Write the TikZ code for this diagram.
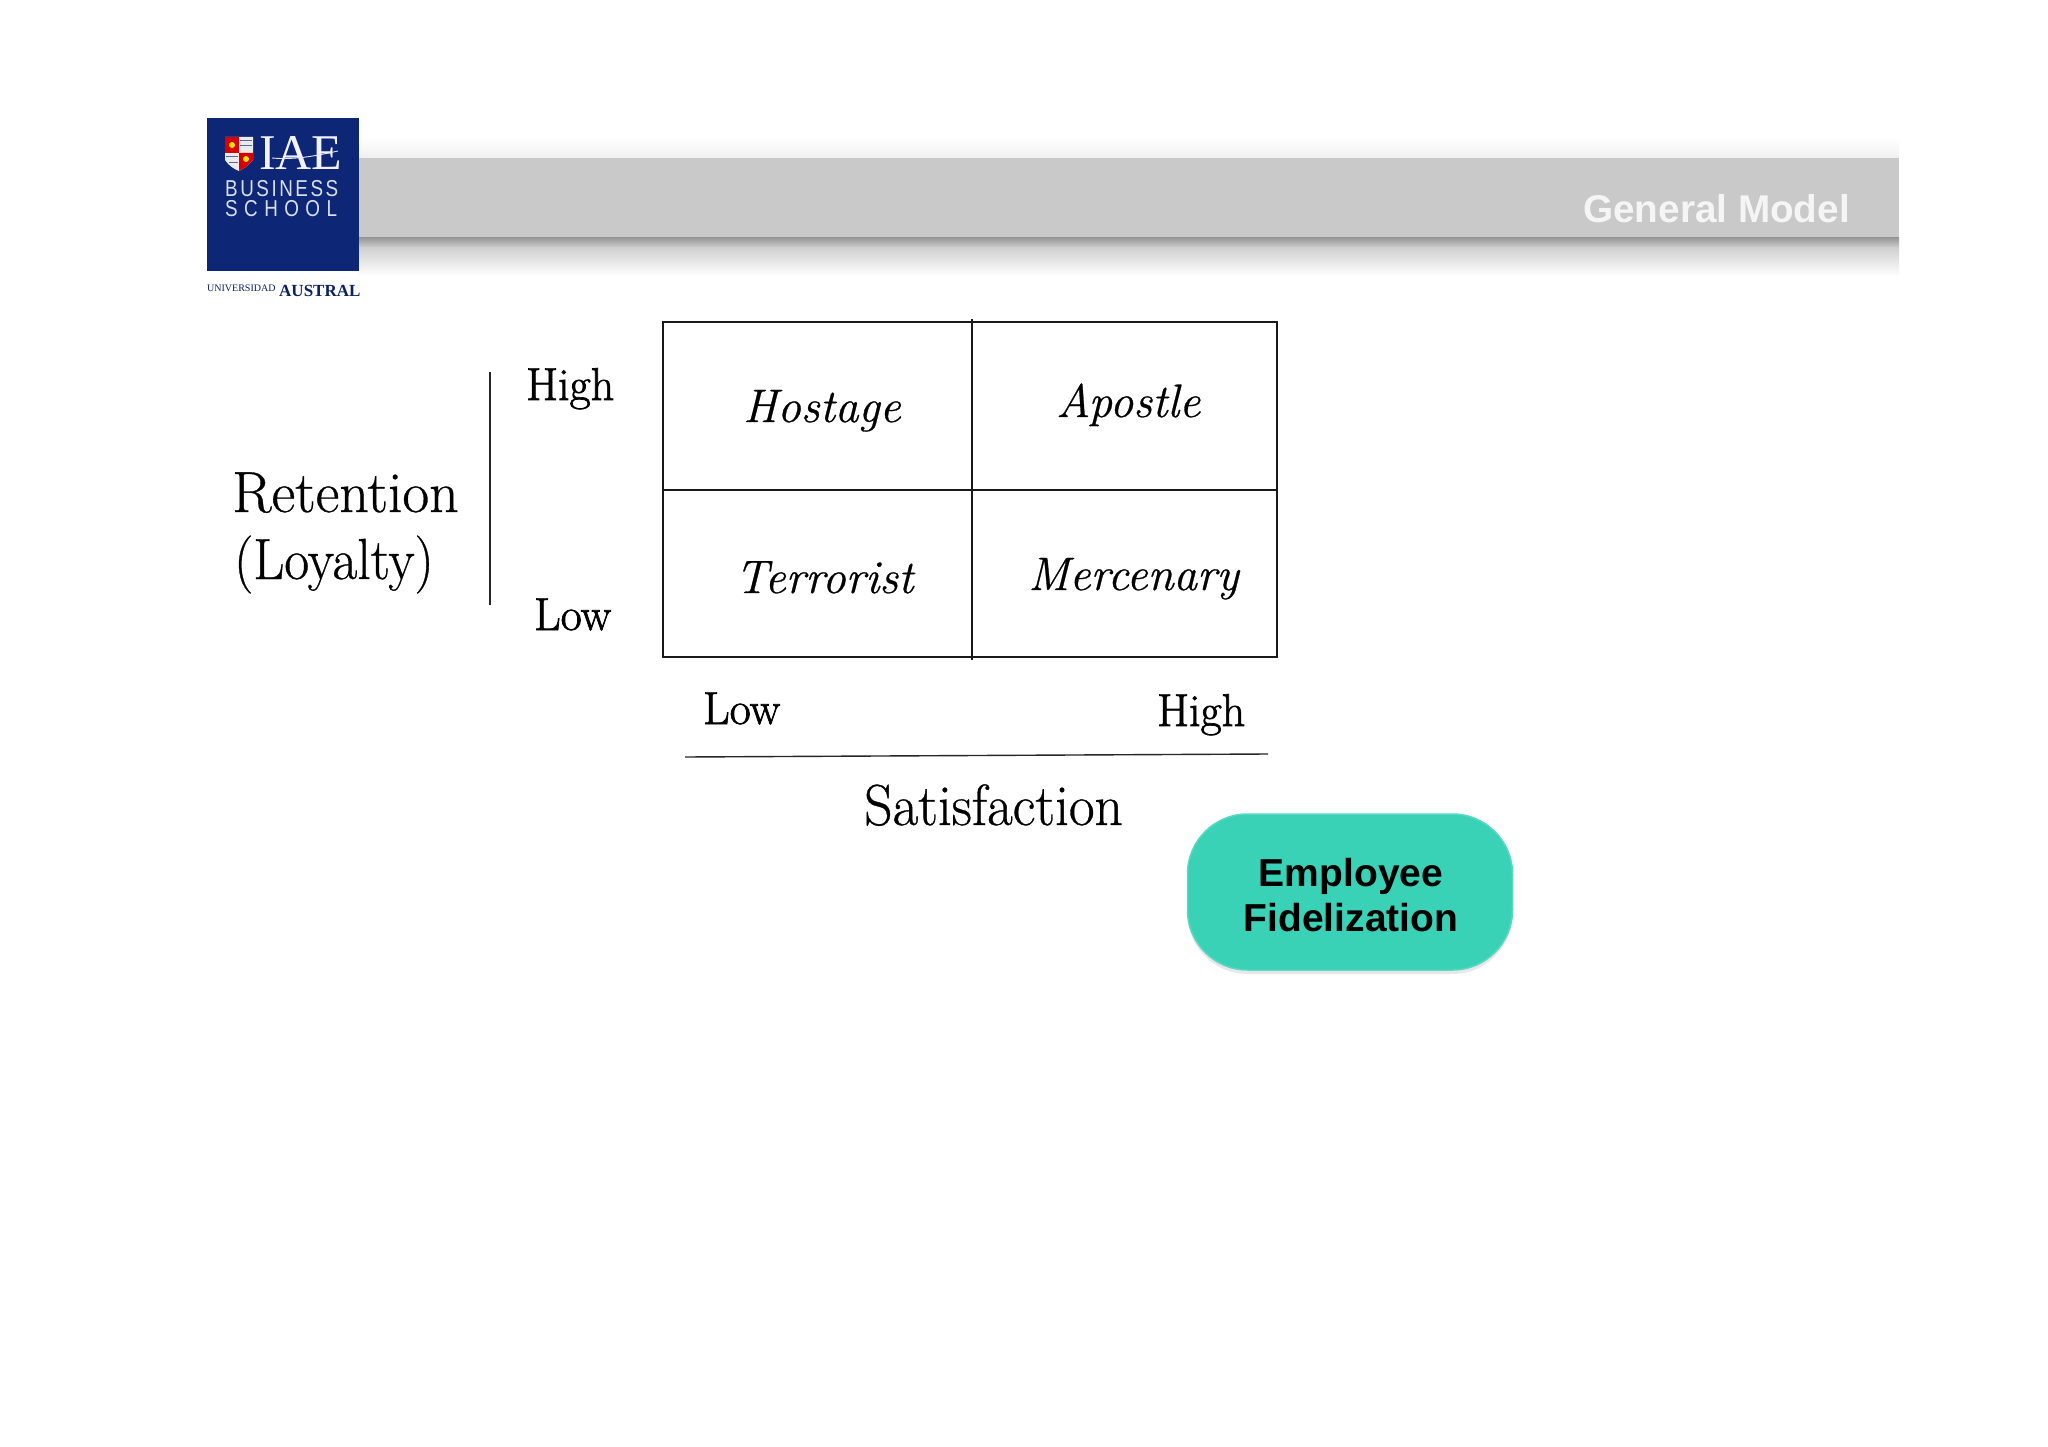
\documentclass[tikz,border=0pt]{standalone}
\usepackage{fontspec}
\usepackage{xcolor}
\usetikzlibrary{shadows}
\newfontfamily\headfont{Liberation Sans}
\newfontfamily\crestfont{Liberation Serif}
\newfontfamily\modelfont[FakeBold=0.6]{Latin Modern Roman}
\newfontfamily\levelfont[FakeBold=1.5]{Latin Modern Roman}
\definecolor{iaeblue}{HTML}{0E2676}
\definecolor{iaepale}{HTML}{D8DEEC}
\definecolor{bandgray}{HTML}{C9C9C9}
\definecolor{pillgreen}{HTML}{3AD2B7}
\tikzset{
 levellabel/.style={anchor=base west,inner sep=0pt,font=\levelfont\fontsize{46}{46}\selectfont},
 axistitle/.style={anchor=base west,inner sep=0pt,font=\modelfont\fontsize{58}{58}\selectfont},
 celllabel/.style={anchor=base west,inner sep=0pt,font=\modelfont\fontsize{47}{47}\selectfont\itshape},
 gridline/.style={line width=1.6pt,black!90},
 axisline/.style={line width=1.4pt,black!85},
 logotext/.style={anchor=base west,inner sep=0pt,text=iaepale,font=\headfont\fontsize{23}{23}\selectfont},
}
\begin{document}
\begin{tikzpicture}[x=1pt,y=-1pt]
        \useasboundingbox[fill=white] (0, 0) rectangle (2048, 1447);
        % header band
        \shade[top color=white, bottom color=black!6] (359, 138) rectangle (1899, 158);
        \fill[bandgray] (359, 158) rectangle (1899, 238);
        \shade[top color=black!40, bottom color=black!18] (359, 238) rectangle (1899, 248);
        \shade[top color=black!18, bottom color=white] (359, 248) rectangle (1899, 276);
        \node[anchor=base west, inner sep=0pt, text=white!96!black, font=\headfont\bfseries\fontsize{38.7}{38.7}\selectfont] (title) at (1583, 223) {General Model};
        % logo
        \fill[iaeblue] (207, 118) rectangle (359, 271);
        \fill[white!92!black] (225, 137) -- (253, 137) -- (253, 160) .. controls (248, 166) and (243, 169) .. (239, 171) .. controls (234, 169) and (229, 166) .. (225, 160) -- cycle;
        \fill[red!85!black] (225, 137) rectangle (239, 153);
        \fill[red!85!black] (239, 153) -- (253, 153) -- (253, 160) .. controls (248, 166) and (243, 169) .. (239, 171) -- cycle;
        \fill[yellow!85!orange] (232, 145) circle (3);
        \fill[yellow!85!orange] (246, 159) circle (3);
        \draw[iaeblue!70, line width=1pt] (240, 141) -- (252, 141) (240, 146) -- (252, 146) (226, 157) -- (238, 157) (229, 163) -- (238, 163);
        \node[anchor=base west, inner sep=0pt, text=white!95!blue, font=\crestfont\fontsize{50}{50}\selectfont] (iae) at (259, 170) {IAE};
        \draw[white!90!blue, line width=.9pt] (272, 158) .. controls (295, 160) and (315, 156) .. (338, 151);
        \node[logotext] (business) at (225, 197) {\addfontfeature{FakeStretch=.82,LetterSpace=11}BUSINESS};
        \node[logotext] (school) at (225, 217) {\addfontfeature{FakeStretch=.82,LetterSpace=28}SCHOOL};
        \node[anchor=base west, inner sep=0pt, text=iaeblue!85!black, font=\crestfont\fontsize{10}{10}\selectfont] (univ) at (207, 292) {UNIVERSIDAD};
        \node[anchor=base west, inner sep=0pt, text=iaeblue!85!black, font=\crestfont\bfseries\fontsize{17}{17}\selectfont] (austral) at (279, 297) {AUSTRAL};
        % matrix
        \coordinate (gridnw) at (663, 322);
        \coordinate (gridse) at (1277, 657);
        \coordinate (gridw) at (663, 490);
        \coordinate (gride) at (1277, 490);
        \coordinate (gridn) at (972, 319);
        \coordinate (grids) at (972, 660);
        \draw[gridline] (gridnw) rectangle (gridse);
        \draw[gridline] (gridw) -- (gride);
        \draw[gridline] (gridn) -- (grids);
        \node[celllabel] (hostage) at (743, 422) {Hostage};
        \node[celllabel] (apostle) at (1056, 417) {Apostle};
        \node[celllabel] (terrorist) at (735, 593) {Terrorist};
        \node[celllabel] (mercenary) at (1028, 590) {Mercenary};
        % retention axis
        \coordinate (retentiontop) at (490, 372);
        \coordinate (retentionbot) at (490, 605);
        \draw[axisline] (retentiontop) -- (retentionbot);
        \node[axistitle] (retention) at (232, 512) {Retention};
        \node[axistitle] (loyalty) at (234, 579) {\addfontfeature{FakeStretch=.93}(Loyalty)};
        \node[levellabel] (highy) at (526, 400) {High};
        \node[levellabel] (lowy) at (534, 630) {Low};
        % satisfaction axis
        \coordinate (satleft) at (685, 757);
        \coordinate (satright) at (1268, 754);
        \draw[axisline] (satleft) -- (satright);
        \node[levellabel] (lowx) at (703, 724) {Low};
        \node[levellabel] (highx) at (1157, 726) {High};
        \node[axistitle] (satisfaction) at (864, 825) {\addfontfeature{FakeStretch=.96}Satisfaction};
        % badge
        \node[draw=pillgreen!85!white, line width=1.5pt, fill=pillgreen, rounded corners=60pt, minimum width=325pt, minimum height=156pt, inner sep=0pt,
              drop shadow={shadow xshift=0pt, shadow yshift=-4pt, opacity=.18}] (badge) at (1350, 892) {};
        \node[inner sep=0pt, align=center, font=\headfont\bfseries\fontsize{39}{45}\selectfont] (badgetext) at (1351, 895) {Employee\\Fidelization};
    \end{tikzpicture}
\end{document}
